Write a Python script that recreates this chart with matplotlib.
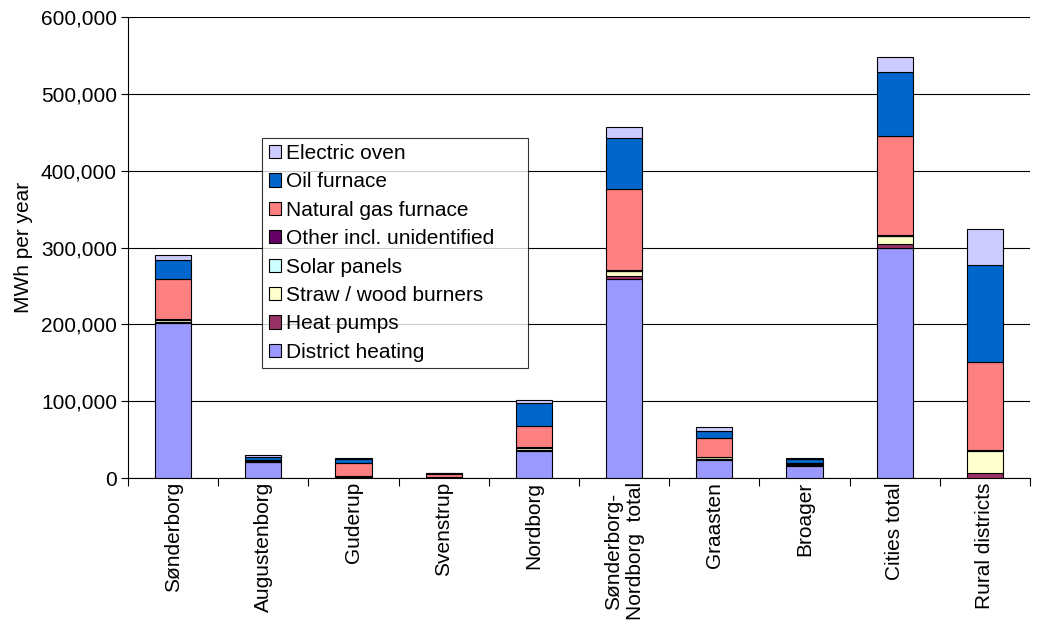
import matplotlib.pyplot as plt
import numpy as np

plt.rcParams['font.family'] = ['Liberation Sans', 'DejaVu Sans']

towns = ['Sønderborg', 'Augustenborg', 'Guderup', 'Svenstrup', 'Nordborg',
         'Sønderborg-\nNordborg  total', 'Graasten', 'Broager', 'Cities total',
         'Rural districts']

# MWh per year, thousands
district = [202, 21, 1.5, 0.5, 35, 259, 24, 16, 300, 0]
heat_pumps = [1.5, 0.3, 0.3, 0.1, 1.5, 3.5, 1, 0.5, 5, 6]
straw_wood = [2, 0.5, 0.5, 0.2, 2, 6.5, 2.5, 1, 9.5, 29.5]
solar = [0.2, 0.05, 0.05, 0.02, 0.2, 0.5, 0.1, 0.1, 0.6, 0.5]
other = [1, 1, 0.3, 0.1, 1, 1, 0.2, 1.5, 1, 0.5]
gas = [52, 0, 17, 4.5, 28, 105, 24, 0, 129, 114]
oil = [24.5, 5, 5, 1, 30, 67, 10, 5, 83, 127]
electric = [6.5, 1.5, 1.2, 0.5, 3.5, 14.5, 4.5, 2.5, 20, 47]

series = [
    ('District heating', district, '#9999FF'),
    ('Heat pumps', heat_pumps, '#993366'),
    ('Straw / wood burners', straw_wood, '#FFFFCC'),
    ('Solar panels', solar, '#CCFFFF'),
    ('Other incl. unidentified', other, '#660066'),
    ('Natural gas furnace', gas, '#FF8080'),
    ('Oil furnace', oil, '#0066CC'),
    ('Electric oven', electric, '#CCCCFF'),
]

FS = 15

fig = plt.figure(figsize=(10.45, 6.21), dpi=100)
ax = fig.add_axes([128/1045, 1 - 478/621, 902/1045, 461/621])

x = np.arange(len(towns))
bottom = np.zeros(len(towns))
handles = []
for name, vals, col in series:
    v = np.array(vals) * 1000
    h = ax.bar(x, v, 0.4, bottom=bottom, color=col, edgecolor='black',
               linewidth=0.8, label=name, zorder=3)
    handles.append(h)
    bottom += v

ax.set_xlim(-0.5, len(towns) - 0.5)
ax.set_ylim(0, 600000)
yt = np.arange(0, 600001, 100000)
ax.set_yticks(yt)
ax.set_yticklabels([f'{int(t):,}' for t in yt], fontsize=FS)
ax.yaxis.grid(True, color='black', linewidth=0.8, zorder=0)
ax.set_ylabel('MWh per year', fontsize=FS, labelpad=6)

ax.set_xticks(x)
ax.set_xticklabels(towns, rotation=90, fontsize=FS, va='top', ha='center',
                   multialignment='center')
ax.tick_params(axis='x', length=0, pad=3)
ax.set_xticks(np.arange(-0.5, len(towns)), minor=True)
ax.tick_params(axis='x', which='minor', length=6, width=0.8)
ax.tick_params(axis='y', length=5, width=0.8, pad=3)

for s in ['top', 'right']:
    ax.spines[s].set_visible(False)
ax.spines['left'].set_linewidth(0.8)
ax.spines['bottom'].set_linewidth(0.8)

# legend box stretched to a fixed width, newest series on top
leg = ax.legend(handles[::-1], [s[0] for s in series][::-1],
                loc='upper left', bbox_to_anchor=(0.149, 0.638, 0.294, 0.1),
                mode='expand',
                fontsize=FS, frameon=True, fancybox=False, edgecolor='black',
                handlelength=0.6, handleheight=0.6, handletextpad=0.25,
                labelspacing=0.45, borderpad=0.3, borderaxespad=0)
leg.get_frame().set_linewidth(0.8)
leg.set_zorder(5)

fig.savefig('out.png', dpi=100)
